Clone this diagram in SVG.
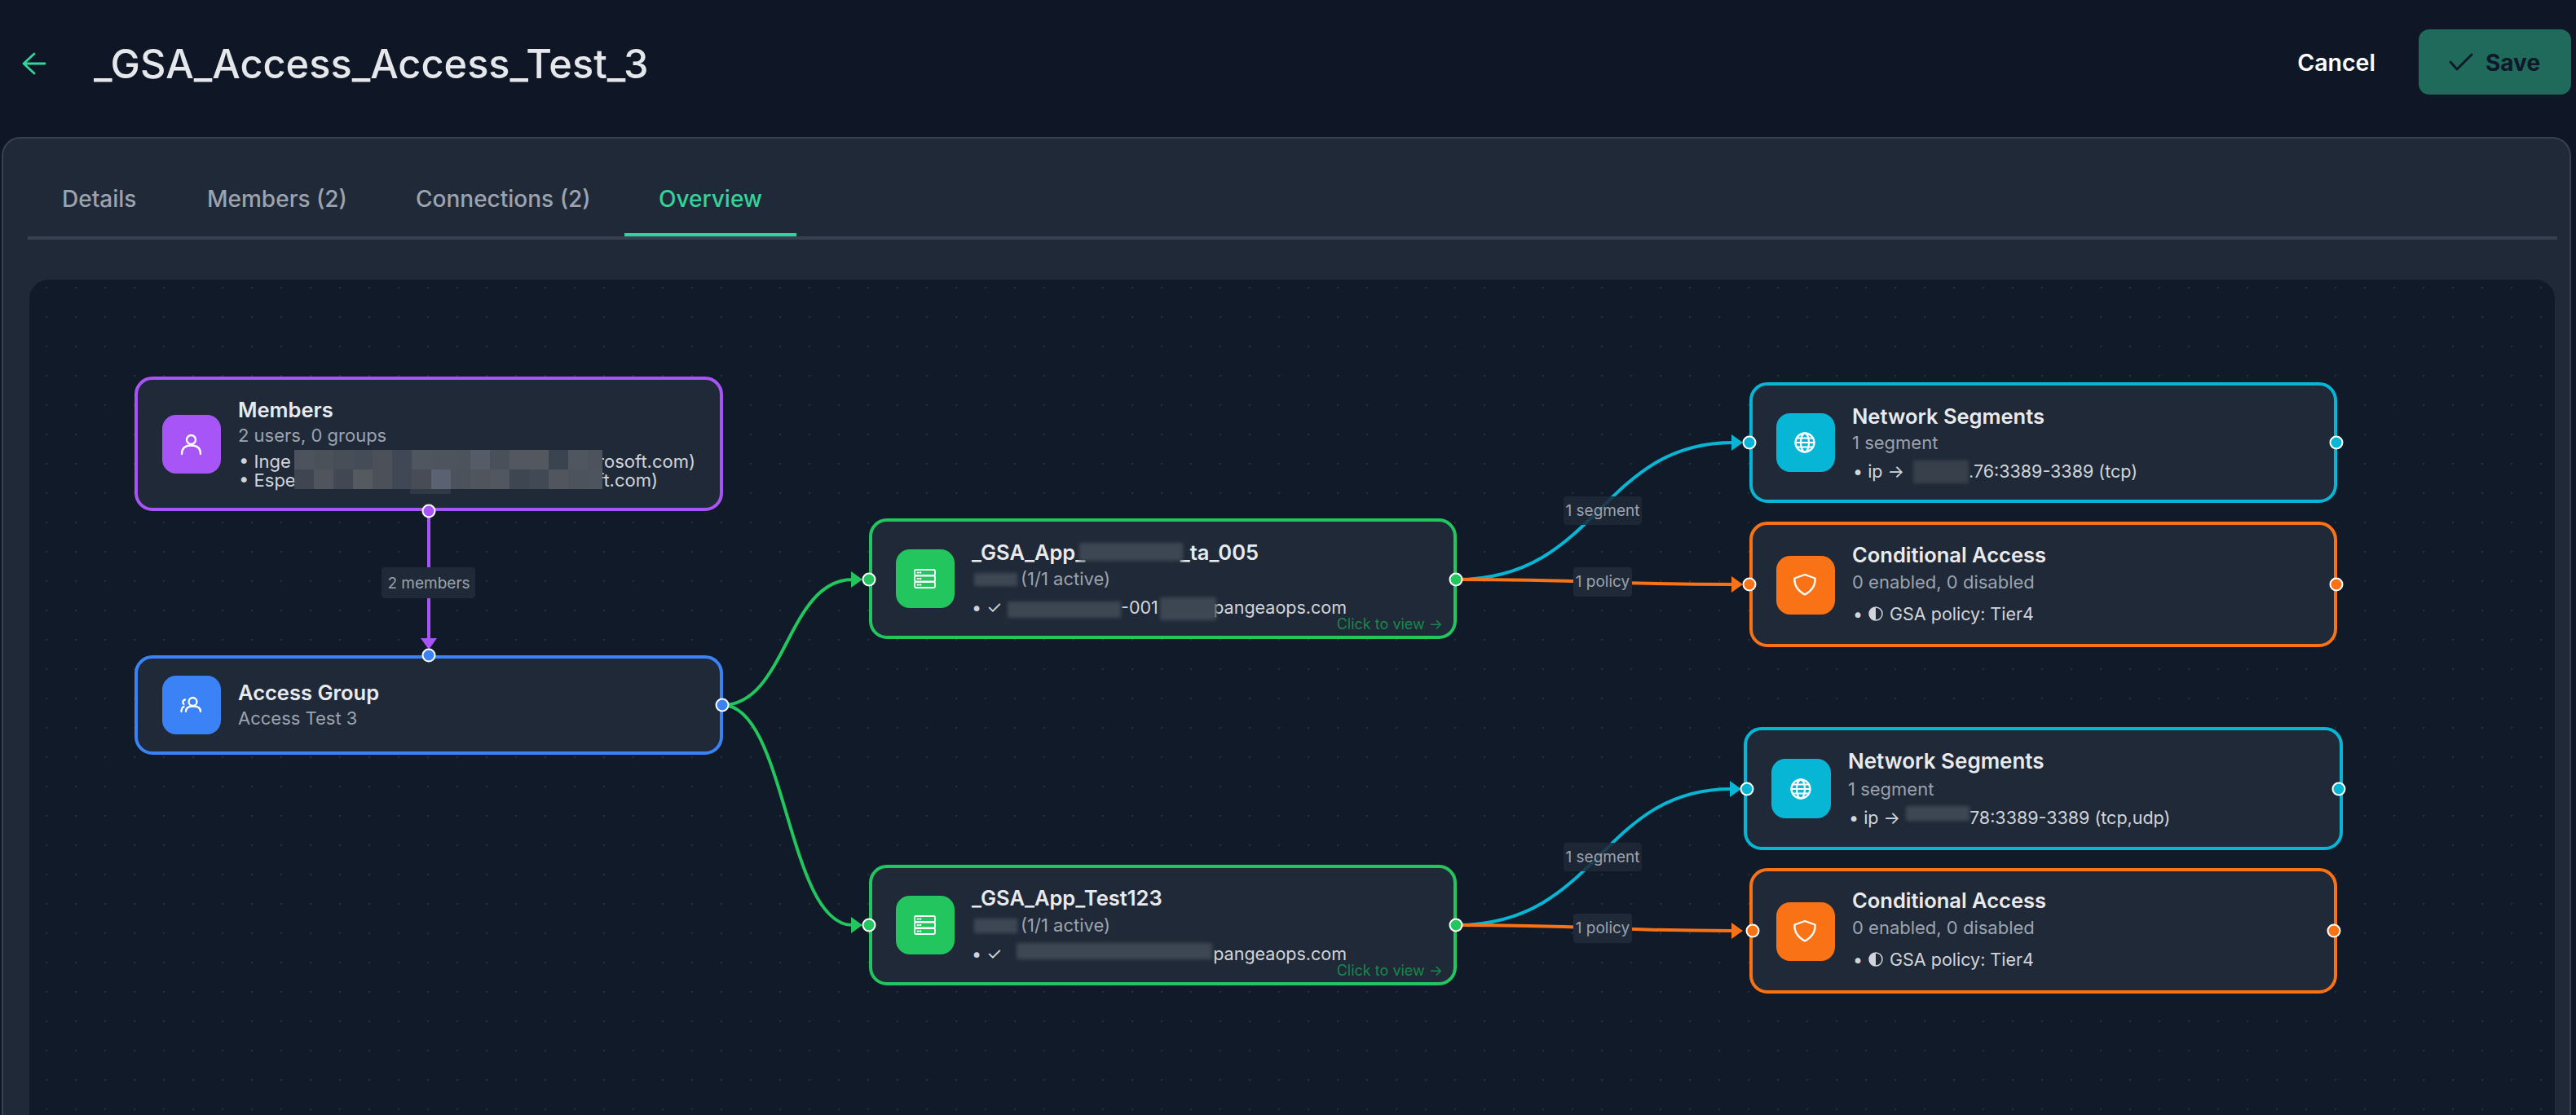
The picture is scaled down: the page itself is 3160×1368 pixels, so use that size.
<svg xmlns="http://www.w3.org/2000/svg" width="3160" height="1368" viewBox="0 0 3160 1368">
<style>
text{font-family:Inter,"Noto Sans","Liberation Sans",sans-serif}
.card{fill:#1f2937;stroke-width:4}
.icbox{stroke:none}
.ic{fill:none;stroke:#fff;stroke-width:2.3;stroke-linecap:round;stroke-linejoin:round}
.t{font-size:25.500px;font-weight:600;fill:#e8eaee}
.s{font-size:22px;fill:#9ca3af}
.d{font-size:21.500px;fill:#d1d5db}
.m{font-size:22px;fill:#d1d5db}
.c{font-size:18px;fill:#17884a}
.tab{font-size:28px;font-weight:500;fill:#9ca3af}
.h{stroke:#fff;stroke-width:2}
.edge{fill:none;stroke-width:4}
.lb{fill:#1f2937;fill-opacity:.85}
.lt{font-size:19px;fill:#9ca3af;text-anchor:middle}
.b{fill:#3e4653}
</style>
<defs>
<pattern id="dots" patternUnits="userSpaceOnUse" width="36" height="36"><circle cx="21" cy="29" r="1.200" fill="#262f3d"/></pattern>
<filter id="soft" x="-20%" y="-40%" width="140%" height="180%"><feGaussianBlur stdDeviation="2.200"/></filter>
<marker id="a-purple" markerUnits="userSpaceOnUse" markerWidth="14" markerHeight="20" viewBox="0 0 14 20" refX="2" refY="10" orient="auto"><path d="M0 0L14 10L0 20Z" fill="#a855f7"/></marker>
<marker id="a-green" markerUnits="userSpaceOnUse" markerWidth="14" markerHeight="20" viewBox="0 0 14 20" refX="2" refY="10" orient="auto"><path d="M0 0L14 10L0 20Z" fill="#22c55e"/></marker>
<marker id="a-cyan" markerUnits="userSpaceOnUse" markerWidth="14" markerHeight="20" viewBox="0 0 14 20" refX="2" refY="10" orient="auto"><path d="M0 0L14 10L0 20Z" fill="#06b6d4"/></marker>
<marker id="a-orange" markerUnits="userSpaceOnUse" markerWidth="14" markerHeight="20" viewBox="0 0 14 20" refX="2" refY="10" orient="auto"><path d="M0 0L14 10L0 20Z" fill="#f97316"/></marker>
<g id="i-server" class="ic" style="stroke-width:1.800"><rect x="-12.500" y="-11" width="25" height="7" rx="1.500"/><rect x="-12.500" y="-3.500" width="25" height="7" rx="1.500"/><rect x="-12.500" y="4" width="25" height="7" rx="1.500"/><path d="M-9-7.500h1M-6-7.500h1M-9 0h1M-6 0h1M-9 7.500h1M-6 7.500h1"/></g>
<g id="i-globe" class="ic"><circle r="11.500"/><ellipse rx="5" ry="11.500"/><path d="M-11.500 0H11.500M-10-5.500H10M-10 5.500H10" style="stroke-width:1.800"/></g>
<g id="i-shield" class="ic"><path d="M0-12L12.500-7.500C13-1 10 7 0 12.500C-10 7-13-1-12.500-7.500Z"/></g>
</defs>

<rect width="3160" height="1368" fill="#0f1726"/>
<g id="header">
<path d="M55 78H30M42 66L29 78L42 90" fill="none" stroke="#34d399" stroke-width="2.800" stroke-linecap="round" stroke-linejoin="round"/>
<text x="115" y="96" font-size="48.700" font-weight="500" fill="#e5e7eb">_GSA_Access_Access_Test_3</text>
<text x="2866" y="87" font-size="28.500" font-weight="600" fill="#fff" text-anchor="middle">Cancel</text>
<rect x="2967" y="36" width="187" height="80" rx="13" fill="#1f6a5b"/>
<path d="M3006 76L3014 85L3032 67" fill="none" stroke="#0f172a" stroke-width="2.800" stroke-linecap="round" stroke-linejoin="round"/>
<text x="3049" y="87" font-size="28" font-weight="700" fill="#0f172a">Save</text>
</g>
<g id="panel">
<rect x="3" y="169" width="3150" height="1300" rx="22" fill="#1f2937" stroke="#374151" stroke-width="2"/>
<text class="tab" x="76" y="254">Details</text>
<text class="tab" x="254" y="254">Members (2)</text>
<text class="tab" x="510" y="254">Connections (2)</text>
<text class="tab" x="808" y="254" style="fill:#34d399">Overview</text>
<rect x="34" y="290" width="3103" height="4" fill="#374151"/>
<rect x="766" y="286" width="211" height="4" fill="#2dd4a0"/>
<rect x="36" y="343" width="3098" height="1200" rx="24" fill="#101a28"/>
<rect x="36" y="343" width="3098" height="1200" rx="24" fill="url(#dots)"/>
</g>

<g id="connectors">
<path class="edge" stroke="#a855f7" d="M526 627V785" marker-end="url(#a-purple)"/>
<path class="edge" stroke="#22c55e" d="M886 865C965 865 965 711 1046 711" marker-end="url(#a-green)"/>
<path class="edge" stroke="#22c55e" d="M886 865C965 865 965 1135 1046 1135" marker-end="url(#a-green)"/>
<path class="edge" stroke="#06b6d4" d="M1786 711C1962 711 1962 543 2126 543" marker-end="url(#a-cyan)"/>
<path class="edge" stroke="#f97316" d="M1786 711C1962 711 1962 717 2126 717" marker-end="url(#a-orange)"/>
<path class="edge" stroke="#06b6d4" d="M1786 1135C1962 1135 1962 968 2124 968" marker-end="url(#a-cyan)"/>
<path class="edge" stroke="#f97316" d="M1786 1135C1962 1135 1962 1142 2126 1142" marker-end="url(#a-orange)"/>
<g id="edge-labels">
<rect class="lb" x="468" y="696" width="115" height="38" rx="4" style="fill-opacity:1"/><text class="lt" x="526" y="722">2 members</text>
<rect class="lb" x="1918" y="609" width="96" height="35" rx="4"/><text class="lt" x="1966" y="633">1 segment</text>
<rect class="lb" x="1930" y="696" width="72" height="36" rx="4" style="fill-opacity:1"/><text class="lt" x="1966" y="720">1 policy</text>
<rect class="lb" x="1918" y="1034" width="96" height="35" rx="4"/><text class="lt" x="1966" y="1058">1 segment</text>
<rect class="lb" x="1930" y="1121" width="72" height="36" rx="4" style="fill-opacity:1"/><text class="lt" x="1966" y="1145">1 policy</text>
</g>
</g>

<g id="node-members">
<rect class="card" x="167" y="464" width="718" height="161" rx="20" stroke="#a855f7"/>
<rect class="icbox" x="199" y="509" width="72" height="72" rx="17" fill="#a855f7"/>
<g class="ic"><circle cx="234.500" cy="539.500" r="5.500"/><path d="M223 557C223 549 228 546.500 234.500 546.500C241 546.500 246 549 246 557"/></g>
<text class="t" x="292" y="512">Members</text>
<text class="s" x="292" y="542">2 users, 0 groups</text>
<text class="m" x="293" y="574">• Inge S</text>
<text class="m" x="293" y="597">• Esper</text>
<text class="m" x="853" y="574" text-anchor="end">crosoft.com)</text>
<text class="m" x="807" y="597" text-anchor="end">ft.com)</text>
<g id="mosaic-members">
<rect x="503" y="598" width="50" height="8" fill="#303946"/>
<rect x="361" y="552" width="24" height="24" fill="#4d535d"/><rect x="385" y="552" width="24" height="24" fill="#4b5159"/><rect x="409" y="552" width="24" height="24" fill="#474e58"/><rect x="433" y="552" width="24" height="24" fill="#444c58"/><rect x="457" y="552" width="24" height="24" fill="#4c5159"/><rect x="481" y="552" width="24" height="24" fill="#3f4854"/><rect x="505" y="552" width="24" height="24" fill="#50565f"/><rect x="529" y="552" width="24" height="24" fill="#4d545e"/><rect x="553" y="552" width="24" height="24" fill="#4c535d"/><rect x="577" y="552" width="24" height="24" fill="#565c67"/><rect x="601" y="552" width="24" height="24" fill="#4a505a"/><rect x="625" y="552" width="24" height="24" fill="#53575f"/><rect x="649" y="552" width="24" height="24" fill="#53585f"/><rect x="673" y="552" width="24" height="24" fill="#3a4350"/><rect x="697" y="552" width="24" height="24" fill="#50565f"/><rect x="721" y="552" width="18" height="24" fill="#4d535c"/>
<rect x="361" y="576" width="24" height="24" fill="#3f4652"/><rect x="385" y="576" width="24" height="24" fill="#50555d"/><rect x="409" y="576" width="24" height="24" fill="#414853"/><rect x="433" y="576" width="24" height="24" fill="#555a60"/><rect x="457" y="576" width="24" height="24" fill="#4b5059"/><rect x="481" y="576" width="24" height="24" fill="#3f4854"/><rect x="505" y="576" width="24" height="24" fill="#474c55"/><rect x="529" y="576" width="24" height="24" fill="#5a6272"/><rect x="553" y="576" width="24" height="24" fill="#4c525c"/><rect x="577" y="576" width="24" height="24" fill="#4f545d"/><rect x="601" y="576" width="24" height="24" fill="#52565f"/><rect x="625" y="576" width="24" height="24" fill="#3e4652"/><rect x="649" y="576" width="24" height="24" fill="#414954"/><rect x="673" y="576" width="24" height="24" fill="#50555e"/><rect x="697" y="576" width="24" height="24" fill="#4d535c"/><rect x="721" y="576" width="18" height="24" fill="#4e545d"/>
</g>
<circle class="h" cx="526" cy="627" r="7.500" fill="#a855f7"/>
</g>

<g id="node-access-group">
<rect class="card" x="167" y="806" width="718" height="118" rx="20" stroke="#3b82f6"/>
<rect class="icbox" x="199" y="829" width="72" height="72" rx="17" fill="#3b82f6"/>
<g class="ic"><circle cx="236.500" cy="861" r="5"/><path d="M228 873C228 868 232 866.500 237 866.500C242 866.500 246 868 246 873M227 858.500C224 859 223.500 862 225.500 864M222.500 873C222.500 870 223.500 868 225.500 867"/></g>
<text class="t" x="292" y="859">Access Group</text>
<text class="s" x="292" y="889">Access Test 3</text>
<circle class="h" cx="526" cy="804" r="7.500" fill="#3b82f6"/>
<circle class="h" cx="886" cy="865" r="7.500" fill="#3b82f6"/>
</g>

<g id="node-app-1">
<rect class="card" x="1068" y="638" width="717" height="144" rx="20" stroke="#22c55e"/>
<rect class="icbox" x="1099" y="674" width="72" height="72" rx="17" fill="#22c55e"/>
<use href="#i-server" x="1134.500" y="710"/>
<text class="t" x="1192" y="687">_GSA_App_</text>
<text class="t" x="1544" y="687" text-anchor="end">_ta_005</text>
<text class="s" x="1252" y="718">(1/1 active)</text>
<text class="d" x="1192" y="753">• ✓</text>
<text class="d" x="1375" y="753">-001</text>
<text class="d" x="1652" y="753" text-anchor="end">pangeaops.com</text>
<text class="c" x="1770" y="772" text-anchor="end">Click to view →</text>
<g filter="url(#soft)"><rect class="b" x="1324" y="666" width="127" height="22"/><rect class="b" x="1195" y="703" width="53" height="16"/><rect class="b" x="1236" y="738" width="139" height="20"/><rect class="b" x="1423" y="733" width="69" height="28"/></g>
<circle class="h" cx="1066" cy="711" r="7.500" fill="#22c55e"/>
<circle class="h" cx="1786" cy="711" r="7.500" fill="#22c55e"/>
</g>

<g id="node-app-2">
<rect class="card" x="1068" y="1063" width="717" height="144" rx="20" stroke="#22c55e"/>
<rect class="icbox" x="1099" y="1099" width="72" height="72" rx="17" fill="#22c55e"/>
<use href="#i-server" x="1134.500" y="1135"/>
<text class="t" x="1192" y="1111">_GSA_App_Test123</text>
<text class="s" x="1252" y="1143">(1/1 active)</text>
<text class="d" x="1192" y="1178">• ✓</text>
<text class="d" x="1652" y="1178" text-anchor="end">pangeaops.com</text>
<text class="c" x="1770" y="1197" text-anchor="end">Click to view →</text>
<g filter="url(#soft)"><rect class="b" x="1195" y="1127" width="53" height="18"/><rect class="b" x="1247" y="1157" width="240" height="20"/></g>
<circle class="h" cx="1066" cy="1135" r="7.500" fill="#22c55e"/>
<circle class="h" cx="1786" cy="1135" r="7.500" fill="#22c55e"/>
</g>

<g id="node-network-1">
<rect class="card" x="2148" y="471" width="717" height="144" rx="20" stroke="#06b6d4"/>
<rect class="icbox" x="2179" y="507" width="72" height="72" rx="17" fill="#06b6d4"/>
<use href="#i-globe" x="2214" y="543"/>
<text class="t" x="2272" y="520">Network Segments</text>
<text class="s" x="2272" y="551">1 segment</text>
<text class="d" x="2273" y="586">• ip →</text>
<text class="d" x="2415" y="586">.76:3389-3389 (tcp)</text>
<rect class="b" x="2347" y="565" width="68" height="28" filter="url(#soft)" style="fill:#38404c"/>
<circle class="h" cx="2146" cy="543" r="7.500" fill="#06b6d4"/>
<circle class="h" cx="2866" cy="543" r="7.500" fill="#06b6d4"/>
</g>

<g id="node-ca-1">
<rect class="card" x="2148" y="642" width="717" height="150" rx="20" stroke="#f97316"/>
<rect class="icbox" x="2179" y="682" width="72" height="72" rx="17" fill="#f97316"/>
<use href="#i-shield" x="2214" y="717"/>
<text class="t" x="2272" y="690">Conditional Access</text>
<text class="s" x="2272" y="722">0 enabled, 0 disabled</text>
<text class="d" x="2273" y="761">•</text>
<circle cx="2301" cy="753" r="8" fill="none" stroke="#d1d5db" stroke-width="1.500"/><path d="M2301 745A8 8 0 0 0 2301 761Z" fill="#d1d5db"/>
<text class="d" x="2318" y="761">GSA policy: Tier4</text>
<circle class="h" cx="2146" cy="717" r="7.500" fill="#f97316"/>
<circle class="h" cx="2866" cy="717" r="7.500" fill="#f97316"/>
</g>

<g id="node-network-2">
<rect class="card" x="2141" y="894" width="731" height="147" rx="20" stroke="#06b6d4"/>
<rect class="icbox" x="2173" y="931" width="73" height="73" rx="17" fill="#06b6d4"/>
<use href="#i-globe" x="2209" y="968"/>
<text class="t" x="2267" y="943" style="font-size:26px">Network Segments</text>
<text class="s" x="2267" y="976">1 segment</text>
<text class="d" x="2268" y="1011">• ip →</text>
<text class="d" x="2416" y="1011">78:3389-3389 (tcp,udp)</text>
<rect class="b" x="2338" y="989" width="78" height="18" filter="url(#soft)"/>
<circle class="h" cx="2143" cy="968" r="7.500" fill="#06b6d4"/>
<circle class="h" cx="2869" cy="968" r="7.500" fill="#06b6d4"/>
</g>

<g id="node-ca-2">
<rect class="card" x="2148" y="1067" width="717" height="150" rx="20" stroke="#f97316"/>
<rect class="icbox" x="2179" y="1107" width="72" height="72" rx="17" fill="#f97316"/>
<use href="#i-shield" x="2214" y="1142"/>
<text class="t" x="2272" y="1114">Conditional Access</text>
<text class="s" x="2272" y="1146">0 enabled, 0 disabled</text>
<text class="d" x="2273" y="1185">•</text>
<circle cx="2301" cy="1177" r="8" fill="none" stroke="#d1d5db" stroke-width="1.500"/><path d="M2301 1169A8 8 0 0 0 2301 1185Z" fill="#d1d5db"/>
<text class="d" x="2318" y="1185">GSA policy: Tier4</text>
<circle class="h" cx="2150" cy="1142" r="7.500" fill="#f97316"/>
<circle class="h" cx="2863" cy="1142" r="7.500" fill="#f97316"/>
</g>
</svg>
